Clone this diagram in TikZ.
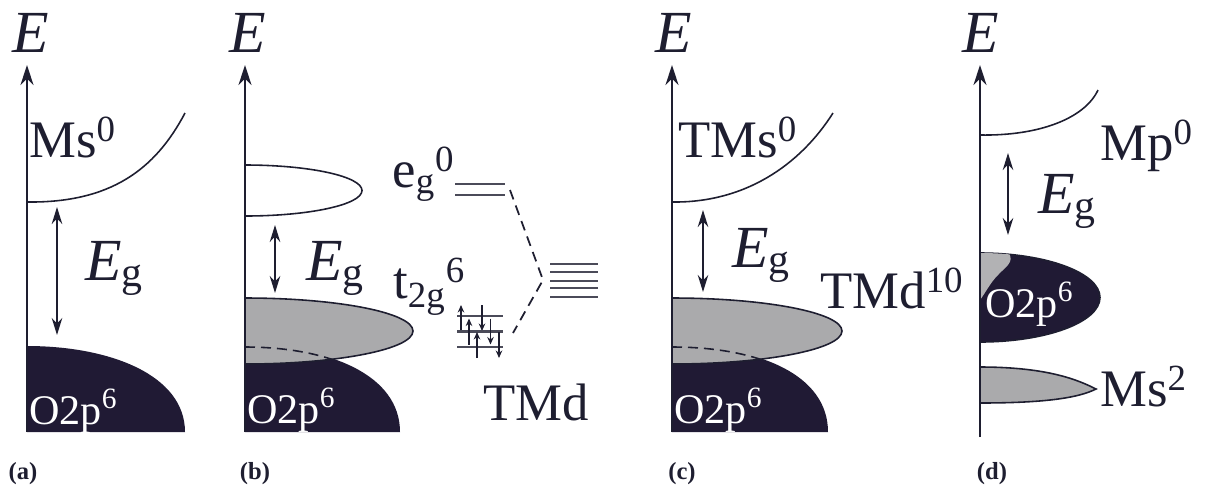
\documentclass[tikz,border=0pt]{standalone}
\usepackage{fontspec}
\setmainfont{Liberation Serif}
\usetikzlibrary{arrows.meta}
\definecolor{ink}{RGB}{30,30,48}
\definecolor{bandblk}{RGB}{32,26,52}
\definecolor{bandgry}{RGB}{170,170,172}
\definecolor{blobgry}{RGB}{178,178,180}

\begin{document}
\begin{tikzpicture}[x=0.02cm, y=-0.02cm,
  axis/.style={-{Stealth[length=4mm, width=2.6mm]}, line width=1.1pt, draw=ink},
  gap/.style={{Stealth[length=3.4mm, width=2.1mm]}-{Stealth[length=3.4mm, width=2.1mm]}, line width=1pt, draw=ink},
  band/.style={line width=0.9pt, draw=ink},
  lbl/.style={anchor=base west, inner sep=0pt, text=ink, font=\fontsize{30}{30}\selectfont},
  elbl/.style={lbl, font=\fontsize{34}{34}\selectfont},
  olbl/.style={anchor=base west, inner sep=0pt, text=white, font=\fontsize{24}{24}\selectfont},
  tag/.style={inner sep=0pt, text=ink, font=\fontsize{14}{14}\selectfont\bfseries},
  lvl/.style={line width=1.4pt, draw=ink!80},
  spin/.style={-{Stealth[length=1.5mm, width=1.3mm]}, line width=1.1pt, draw=ink},
  link/.style={line width=1pt, draw=ink, dash pattern=on 2mm off 1.3mm}
]
\useasboundingbox (0,0) rectangle (1207,488);

% (a)
\fill[bandblk] (27,346) .. controls (110,346) and (185,375) .. (185,432) -- (27,432) -- cycle;
\draw[band] (27,202) .. controls (110,203) and (155,170) .. (185,113);
\coordinate (a0) at (27,432);
\coordinate (a1) at (27,65);
\draw[axis] (a0) -- (a1);
\coordinate (ga0) at (57,207);
\coordinate (ga1) at (57,335);
\draw[gap] (ga0) -- (ga1);
\node[elbl, anchor=center] (Ea) at (31,33) {\textit{E}};
\node[lbl] (msa) at (29,157) {Ms\textsuperscript{0}};
\node[elbl] (ega) at (85,280) {\textit{E}\textsubscript{g}};
\node[olbl] (oa) at (29,424) {O2p\textsuperscript{6}};
\node[tag] (taga) at (23,474) {(a)};

% (b)
\fill[bandblk] (245,346) .. controls (330,346) and (400,375) .. (400,432) -- (245,432) -- cycle;
\filldraw[band, fill=bandgry] (245,298) arc[start angle=-90, end angle=90, x radius=168, y radius=33] -- cycle;
\begin{scope}
  \clip (245,298) arc[start angle=-90, end angle=90, x radius=168, y radius=33] -- cycle;
  \draw[band, dashed, dash pattern=on 2mm off 1.2mm] (245,347) .. controls (330,347) and (400,376) .. (400,433);
\end{scope}
\draw[band] (245,165) arc[start angle=-90, end angle=90, x radius=117, y radius=25.5];
\coordinate (b0) at (245,432);
\coordinate (b1) at (245,65);
\draw[axis] (b0) -- (b1);
\coordinate (gb0) at (275,225);
\coordinate (gb1) at (275,293);
\draw[gap] (gb0) -- (gb1);
\node[elbl, anchor=center] (Eb) at (248,33) {\textit{E}};
\node[elbl] (egb) at (306,280) {\textit{E}\textsubscript{g}};
\node[olbl] (ob) at (247,423) {O2p\textsuperscript{6}};
\node[tag] (tagb) at (255,474) {(b)};

% TM d levels
\node[lbl] (eglbl) at (392,187) {e\textsubscript{g}\textsuperscript{0}};
\node[lbl] (tglbl) at (393,298) {t\textsubscript{2g}\textsuperscript{6}};
\node[lbl] (tmd) at (483,420) {TMd};
\draw[lvl] (455,184) -- (505,184);
\draw[lvl] (455,195) -- (505,195);
\foreach \y in {264,272,281,288,297}
  \draw[lvl] (550,\y) -- (598,\y);
\foreach \i in {0,1,2} {
  \draw[lvl] (457,316+15.5*\i) -- (503,316+15.5*\i);
  \draw[spin] (461+8*\i,331+13.5*\i) -- (461+8*\i,305+13.5*\i);
  \draw[spin] (482+8.5*\i,305+13.5*\i) -- (482+8.5*\i,331+13.5*\i);
}
\coordinate (egend) at (510,190);
\coordinate (mid) at (543,280);
\coordinate (tgend) at (513,333);
\draw[link] (egend) -- (mid) -- (tgend);

% (c)
\fill[bandblk] (672,346) .. controls (760,346) and (828,375) .. (828,432) -- (672,432) -- cycle;
\filldraw[band, fill=bandgry] (672,298) arc[start angle=-90, end angle=90, x radius=170, y radius=33] -- cycle;
\begin{scope}
  \clip (672,298) arc[start angle=-90, end angle=90, x radius=170, y radius=33] -- cycle;
  \draw[band, dashed, dash pattern=on 2mm off 1.2mm] (672,347) .. controls (760,347) and (828,376) .. (828,433);
\end{scope}
\draw[band] (672,202) .. controls (745,203) and (800,165) .. (833,113);
\coordinate (c0) at (672,432);
\coordinate (c1) at (672,65);
\draw[axis] (c0) -- (c1);
\coordinate (gc0) at (703,210);
\coordinate (gc1) at (703,292);
\draw[gap] (gc0) -- (gc1);
\node[elbl, anchor=center] (Ec) at (674,33) {\textit{E}};
\node[lbl] (tmsc) at (678,157) {TMs\textsuperscript{0}};
\node[elbl] (egc) at (732,267) {\textit{E}\textsubscript{g}};
\node[lbl] (tmdc) at (820,308) {TMd\textsuperscript{10}};
\node[olbl] (oc) at (674,423) {O2p\textsuperscript{6}};
\node[tag] (tagc) at (682,474) {(c)};

% (d)
\filldraw[band, fill=bandblk] (980,253) arc[start angle=-90, end angle=90, x radius=120, y radius=44.5] -- cycle;
\begin{scope}
  \clip (980,253) arc[start angle=-90, end angle=90, x radius=120, y radius=44.5] -- cycle;
  \fill[blobgry] (980,250) -- (1008,252) .. controls (1016,262) and (1004,268) .. (998,275) .. controls (990,283) and (986,292) .. (980,300) -- cycle;
\end{scope}
\filldraw[band, fill=bandgry] (980,367) .. controls (1050,367) and (1080,381) .. (1096,389) .. controls (1080,397) and (1050,403) .. (980,403) -- cycle;
\draw[band] (980,135) .. controls (1040,136) and (1085,118) .. (1098,90);
\coordinate (d0) at (980,437);
\coordinate (d1) at (980,65);
\draw[axis] (d0) -- (d1);
\coordinate (gd0) at (1008,153);
\coordinate (gd1) at (1008,235);
\draw[gap] (gd0) -- (gd1);
\node[elbl, anchor=center] (Ed) at (981,33) {\textit{E}};
\node[lbl] (mpd) at (1100,160) {Mp\textsuperscript{0}};
\node[elbl] (egd) at (1038,213) {\textit{E}\textsubscript{g}};
\node[olbl] (od) at (985,317) {O2p\textsuperscript{6}};
\node[lbl] (msd) at (1100,406) {Ms\textsuperscript{2}};
\node[tag] (tagd) at (992,474) {(d)};
\end{tikzpicture}
\end{document}
